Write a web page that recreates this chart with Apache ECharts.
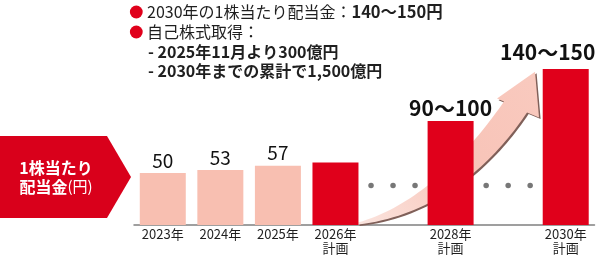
<!DOCTYPE html>
<html><head><meta charset="utf-8">
<script src="https://cdn.jsdelivr.net/npm/echarts@6/dist/echarts.min.js"></script>
<style>html,body{margin:0;padding:0;background:#fff}#c{width:600px;height:259px}</style>
</head><body><div id="c"></div>
<script>
// ---- data ----
const categories = ['2023年', '2024年', '2025年', '2026年\n計画', '', '2028年\n計画', '', '2030年\n計画'];
const dividends = [50, 53, 57, 60, null, 100, null, 150];
const valueLabels = ['50', '53', '57', '', '', '90～100', '', '140～150'];
const isPlan = [false, false, false, true, false, true, false, true];
const gapIndexes = [4, 6];
const gapDotLevel = 38;
const axisTitleLines = ['1株当たり', '配当金', '(円)'];
const noteLine1 = ['2030年の1株当たり配当金：', '140～150円'];
const noteLine2 = '自己株式取得：';
const noteSubLines = ['- 2025年11月より300億円', '- 2030年までの累計で1,500億円'];

// ---- styles ----
const FONT = '"Noto Sans CJK JP", "Noto Sans", sans-serif';
const RED = '#E0001B';
const PINK = '#F8BFB1';
const TEXT = '#1f1f1f';

const barData = dividends.map((v, i) => {
  if (v == null) return null;
  const big = isPlan[i] && valueLabels[i];
  const item = {
    value: v,
    itemStyle: { color: isPlan[i] ? RED : PINK },
    label: {
      show: !!valueLabels[i],
      formatter: valueLabels[i],
      fontSize: big ? 21 : 19,
      fontWeight: big ? 'bold' : 'normal',
      distance: big ? 2.5 : 3
    }
  };
  if (i === 7) item.label.offset = [-18, -3.5];
  return item;
});

const dotData = [];
gapIndexes.forEach(g => {
  [-22, 0, 22].forEach(off => dotData.push({ value: [g, gapDotLevel], symbolOffset: [off, 0] }));
});

const chart = echarts.init(document.getElementById('c'), null, { renderer: 'canvas' });

const staticGraphic = [
  { id: 'tag', type: 'polygon', z: 5,
    shape: { points: [[0, 136], [107, 136], [131, 177], [107, 218], [0, 218]] },
    style: { fill: '#D9001B' } },
  { id: 'tagText', type: 'text', z: 6, x: 56, y: 177,
    style: {
      text: '{b|' + axisTitleLines[0] + '}\n{b|' + axisTitleLines[1] + '}{n|' + axisTitleLines[2] + '}',
      align: 'center', verticalAlign: 'middle', fill: '#fff',
      rich: {
        b: { fontFamily: FONT, fontSize: 16, fontWeight: 'bold', fill: '#fff', lineHeight: 19 },
        n: { fontFamily: FONT, fontSize: 15, fontWeight: 'normal', fill: '#fff', lineHeight: 19 }
      }
    } },
  { id: 'bul1', type: 'circle', z: 5, shape: { cx: 136.3, cy: 12, r: 6.4 }, style: { fill: RED } },
  { id: 'bul2', type: 'circle', z: 5, shape: { cx: 136.3, cy: 32, r: 6.4 }, style: { fill: RED } },
  { id: 'n1', type: 'text', z: 5, x: 147, y: 12,
    style: {
      text: '{n|' + noteLine1[0] + '}{b|' + noteLine1[1] + '}',
      verticalAlign: 'middle', fill: TEXT,
      rich: {
        n: { fontFamily: FONT, fontSize: 16, fontWeight: 'normal', fill: TEXT },
        b: { fontFamily: FONT, fontSize: 16.5, fontWeight: 'bold', fill: TEXT }
      }
    } },
  { id: 'n2', type: 'text', z: 5, x: 147, y: 32,
    style: { text: noteLine2, font: 'normal 16px ' + FONT, fill: TEXT, verticalAlign: 'middle' } },
  { id: 'n3', type: 'text', z: 5, x: 148, y: 52,
    style: { text: noteSubLines[0], font: 'bold 16px ' + FONT, fill: TEXT, verticalAlign: 'middle' } },
  { id: 'n4', type: 'text', z: 5, x: 148, y: 71,
    style: { text: noteSubLines[1], font: 'bold 16px ' + FONT, fill: TEXT, verticalAlign: 'middle' } }
];

chart.setOption({
  animation: false,
  grid: { left: 134, right: 5.5, top: 17, bottom: 34, containLabel: false },
  xAxis: {
    type: 'category', data: categories,
    axisLine: { show: true, lineStyle: { color: '#808080', width: 1.5 } },
    axisTick: { show: false },
    axisLabel: { interval: 0, margin: 2, fontFamily: FONT, fontSize: 13, color: TEXT, lineHeight: 14 }
  },
  yAxis: { type: 'value', min: 0, max: 200, show: false, splitLine: { show: false } },
  series: [
    { type: 'bar', data: barData, barWidth: 46, z: 2,
      label: { show: true, position: 'top', color: '#111', fontFamily: FONT } },
    { type: 'scatter', data: dotData, symbol: 'circle', symbolSize: 5.5, z: 3,
      itemStyle: { color: '#555' }, silent: true }
  ],
  graphic: staticGraphic
});

// ---- curved arrow, anchored to the 2026 bar and the 2030 bar ----
const half = 23;
const a0 = chart.convertToPixel({ gridIndex: 0 }, [3, 0]);
const b0 = chart.convertToPixel({ gridIndex: 0 }, [7, dividends[7]]);
const A = [a0[0] + half, a0[1]];
const B = [b0[0] - half, b0[1]];
const Aref = [358.5, 225], Bref = [542.7, 68.3];
const sx = (B[0] - A[0]) / (Bref[0] - Aref[0]);
const sy = (B[1] - A[1]) / (Bref[1] - Aref[1]);
const M = (p, dx, dy) => [A[0] + (p[0] - Aref[0]) * sx + dx, A[1] + (p[1] - Aref[1]) * sy + dy];
function cubic(p0, p1, p2, p3, n) {
  const out = [];
  for (let k = 0; k <= n; k++) {
    const t = k / n, u = 1 - t;
    out.push([
      u*u*u*p0[0] + 3*u*u*t*p1[0] + 3*u*t*t*p2[0] + t*t*t*p3[0],
      u*u*u*p0[1] + 3*u*u*t*p1[1] + 3*u*t*t*p2[1] + t*t*t*p3[1]
    ]);
  }
  return out;
}
function arrowPoints(dx, dy) {
  const pts = [];
  cubic([358, 222.5], [420, 205], [470, 150], [504, 101], 40).forEach(p => pts.push(p));
  pts.push([497, 98], [535, 71], [539, 117], [527, 112]);
  cubic([527, 112], [495, 160], [440, 215], [358, 224.5], 40).forEach(p => pts.push(p));
  return pts.map(p => M(p, dx, dy));
}

chart.setOption({
  graphic: [
    { id: 'arrowShadow', type: 'polygon', z: 1, silent: true,
      shape: { points: arrowPoints(1.6, 1.6) },
      style: { fill: '#806059' } },
    { id: 'arrow', type: 'polygon', z: 1.5, silent: true,
      shape: { points: arrowPoints(0, 0) },
      style: {
        fill: {
          type: 'linear', x: A[0], y: A[1], x2: B[0], y2: B[1], global: true,
          colorStops: [
            { offset: 0, color: '#fbe4de' },
            { offset: 0.5, color: '#f8c4b8' },
            { offset: 1, color: '#f9cabf' }
          ]
        }
      } }
  ]
});
</script>
</body></html>
